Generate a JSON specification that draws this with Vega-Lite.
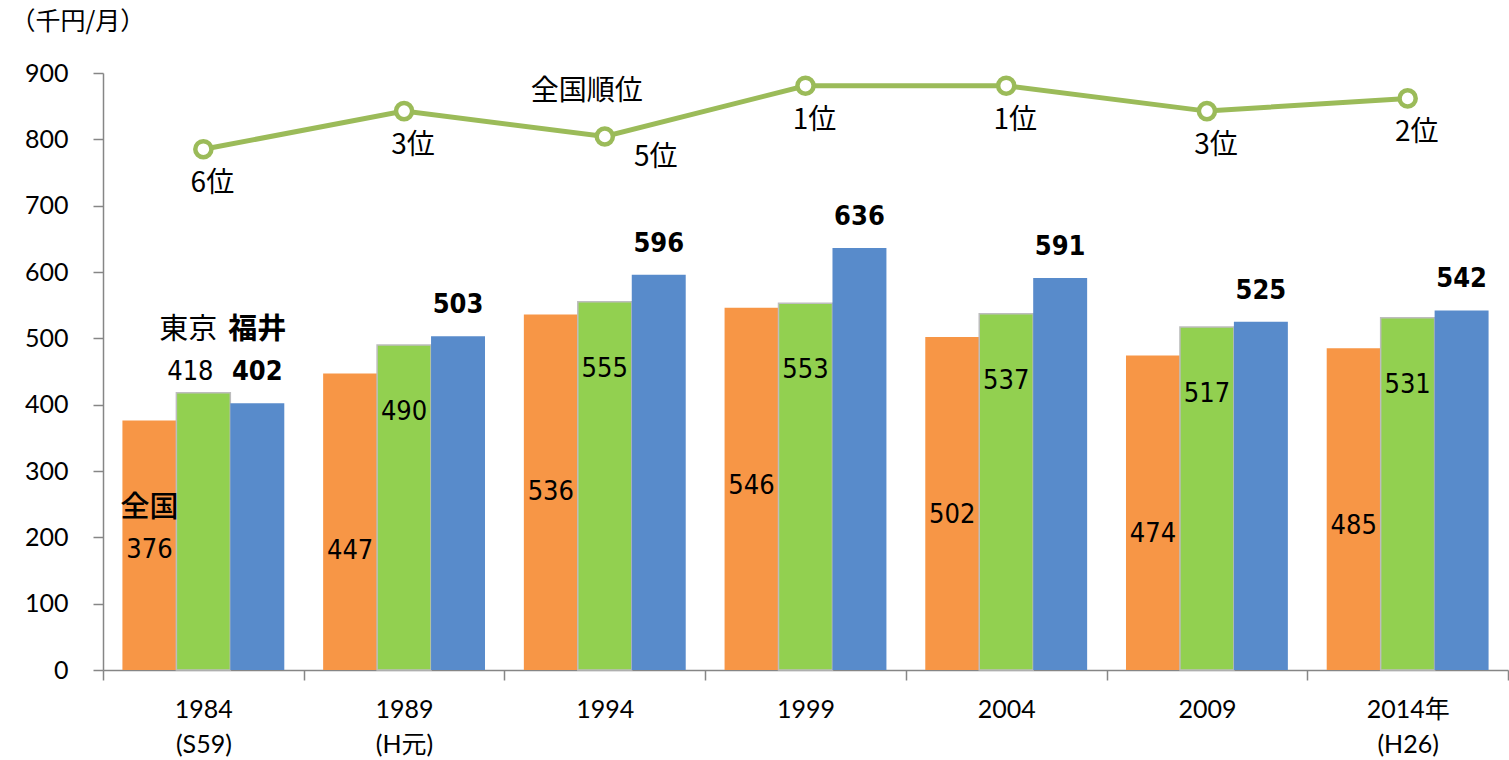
{
  "$schema": "https://vega.github.io/schema/vega-lite/v6.json",
  "width": 1405,
  "height": 597,
  "autosize": {"type": "none"},
  "padding": {"left": 103, "top": 73, "right": 1, "bottom": 90},
  "background": "white",
  "config": {"view": {"stroke": null}, "font": "Noto Sans CJK JP"},
  "datasets": {
    "income": [
      {"year": "1984", "series": "全国", "value": 376},
      {"year": "1984", "series": "東京", "value": 418},
      {"year": "1984", "series": "福井", "value": 402},
      {"year": "1989", "series": "全国", "value": 447},
      {"year": "1989", "series": "東京", "value": 490},
      {"year": "1989", "series": "福井", "value": 503},
      {"year": "1994", "series": "全国", "value": 536},
      {"year": "1994", "series": "東京", "value": 555},
      {"year": "1994", "series": "福井", "value": 596},
      {"year": "1999", "series": "全国", "value": 546},
      {"year": "1999", "series": "東京", "value": 553},
      {"year": "1999", "series": "福井", "value": 636},
      {"year": "2004", "series": "全国", "value": 502},
      {"year": "2004", "series": "東京", "value": 537},
      {"year": "2004", "series": "福井", "value": 591},
      {"year": "2009", "series": "全国", "value": 474},
      {"year": "2009", "series": "東京", "value": 517},
      {"year": "2009", "series": "福井", "value": 525},
      {"year": "2014", "series": "全国", "value": 485},
      {"year": "2014", "series": "東京", "value": 531},
      {"year": "2014", "series": "福井", "value": 542}
    ],
    "rank": [
      {"year": "1984", "rank": 6, "label": "6位"},
      {"year": "1989", "rank": 3, "label": "3位"},
      {"year": "1994", "rank": 5, "label": "5位"},
      {"year": "1999", "rank": 1, "label": "1位"},
      {"year": "2004", "rank": 1, "label": "1位"},
      {"year": "2009", "rank": 3, "label": "3位"},
      {"year": "2014", "rank": 2, "label": "2位"}
    ]
  },
  "layer": [
    {
      "data": {"name": "income"},
      "encoding": {
        "x": {
          "field": "year", "type": "nominal", "sort": null,
          "scale": {"paddingInner": 0, "paddingOuter": 0},
          "axis": {
            "title": null, "labelAngle": 0, "tickBand": "extent", "tickSize": 10,
            "tickColor": "#868686", "domainColor": "#868686", "tickWidth": 1.5, "domainWidth": 1.5,
            "labelFont": "Lato, Noto Sans CJK JP", "labelFontSize": 25, "labelColor": "black",
            "labelPadding": 17, "labelLineHeight": 35, "labelBaseline": "top",
            "labelExpr": "datum.value == '1984' ? ['1984','(S59)'] : datum.value == '1989' ? ['1989','(H元)'] : datum.value == '2014' ? ['2014年','(H26)'] : datum.value"
          }
        },
        "xOffset": {"field": "series", "type": "nominal", "sort": ["全国", "東京", "福井"], "scale": {"paddingInner": 0, "paddingOuter": 0.36}},
        "y": {
          "field": "value", "type": "quantitative",
          "scale": {"domain": [0, 900], "nice": false},
          "axis": {
            "title": "（千円/月）", "titleAngle": 0, "titleX": -93, "titleY": -52, "titleAlign": "left",
            "titleBaseline": "middle", "titleFont": "Noto Sans CJK JP", "titleFontSize": 25,
            "titleFontWeight": "normal", "titleColor": "black",
            "values": [0, 100, 200, 300, 400, 500, 600, 700, 800, 900],
            "tickSize": 10, "labelPadding": 25, "grid": false,
            "tickColor": "#868686", "domainColor": "#868686", "tickWidth": 1.5, "domainWidth": 1.5,
            "labelFont": "Lato", "labelFontSize": 25, "labelColor": "black"
          }
        }
      },
      "layer": [
        {
          "mark": {"type": "bar", "strokeWidth": 1.5},
          "encoding": {
            "color": {"field": "series", "type": "nominal", "scale": {"domain": ["全国", "東京", "福井"], "range": ["#F79646", "#92D050", "#588BCB"]}, "legend": null},
            "stroke": {"condition": {"test": "datum.series == '東京'", "value": "#BDBDBD"}, "value": "transparent"}
          }
        },
        {
          "transform": [{"filter": "datum.series == '全国' && datum.year != '1984'"}],
          "mark": {"type": "text", "dy": 178, "font": "DejaVu Sans Condensed, Roboto", "fontSize": 27, "fontWeight": "normal", "color": "black", "baseline": "middle"},
          "encoding": {"text": {"field": "value"}}
        },
        {
          "transform": [{"filter": "datum.series == '全国' && datum.year == '1984'"}],
          "mark": {"type": "text", "dy": 129, "font": "DejaVu Sans Condensed, Roboto", "fontSize": 27, "fontWeight": "normal", "color": "black", "baseline": "middle"},
          "encoding": {"text": {"field": "value"}}
        },
        {
          "transform": [{"filter": "datum.series == '東京' && datum.year != '1984'"}],
          "mark": {"type": "text", "dy": 67, "font": "DejaVu Sans Condensed, Roboto", "fontSize": 27, "fontWeight": "normal", "color": "black", "baseline": "middle"},
          "encoding": {"text": {"field": "value"}}
        },
        {
          "transform": [{"filter": "datum.series == '東京' && datum.year == '1984'"}],
          "mark": {"type": "text", "dx": -13, "dy": -21, "font": "DejaVu Sans Condensed, Roboto", "fontSize": 27, "fontWeight": "normal", "color": "black", "baseline": "middle"},
          "encoding": {"text": {"field": "value"}}
        },
        {
          "transform": [{"filter": "datum.series == '福井'"}],
          "mark": {"type": "text", "dy": -31, "font": "DejaVu Sans Condensed, Roboto", "fontSize": 27, "fontWeight": "bold", "color": "black", "baseline": "middle"},
          "encoding": {"text": {"field": "value"}}
        },
        {
          "transform": [{"filter": "datum.series == '全国' && datum.year == '1984'"}],
          "mark": {"type": "text", "dy": 87, "font": "Noto Sans CJK JP", "fontSize": 29, "fontWeight": 500, "color": "black", "baseline": "middle"},
          "encoding": {"text": {"field": "series"}}
        },
        {
          "transform": [{"filter": "datum.series == '東京' && datum.year == '1984'"}],
          "mark": {"type": "text", "dx": -15, "dy": -63, "font": "Noto Sans CJK JP", "fontSize": 29, "fontWeight": "normal", "color": "black", "baseline": "middle"},
          "encoding": {"text": {"field": "series"}}
        },
        {
          "transform": [{"filter": "datum.series == '福井' && datum.year == '1984'"}],
          "mark": {"type": "text", "dy": -73, "font": "Noto Sans CJK JP", "fontSize": 29, "fontWeight": "bold", "color": "black", "baseline": "middle"},
          "encoding": {"text": {"field": "series"}}
        }
      ]
    },
    {
      "data": {"name": "rank"},
      "encoding": {
        "x": {"field": "year", "type": "nominal", "sort": null},
        "y": {"field": "rank", "type": "quantitative", "scale": {"domain": [0, 47], "reverse": true, "nice": false, "zero": false}, "axis": null}
      },
      "layer": [
        {"mark": {"type": "line", "color": "#9BBB59", "strokeWidth": 5}},
        {"mark": {"type": "point", "shape": "circle", "filled": true, "fill": "white", "stroke": "#9BBB59", "strokeWidth": 4.5, "size": 260, "opacity": 1}},
        {
          "transform": [{"filter": "datum.year != '1994'"}],
          "mark": {"type": "text", "dx": 9, "dy": 35, "font": "Noto Sans CJK JP", "fontSize": 28, "fontWeight": "normal", "color": "black", "baseline": "middle"},
          "encoding": {"text": {"field": "label"}}
        },
        {
          "transform": [{"filter": "datum.year == '1994'"}],
          "mark": {"type": "text", "dx": 51, "dy": 21, "font": "Noto Sans CJK JP", "fontSize": 28, "fontWeight": "normal", "color": "black", "baseline": "middle"},
          "encoding": {"text": {"field": "label"}}
        },
        {
          "transform": [{"filter": "datum.year == '1994'"}],
          "mark": {"type": "text", "dx": -18, "font": "Noto Sans CJK JP", "fontSize": 28, "fontWeight": "normal", "color": "black", "baseline": "middle"},
          "encoding": {
            "y": {"datum": 1.5},
            "text": {"value": "全国順位"}
          }
        }
      ]
    }
  ],
  "resolve": {"scale": {"y": "independent"}}
}
